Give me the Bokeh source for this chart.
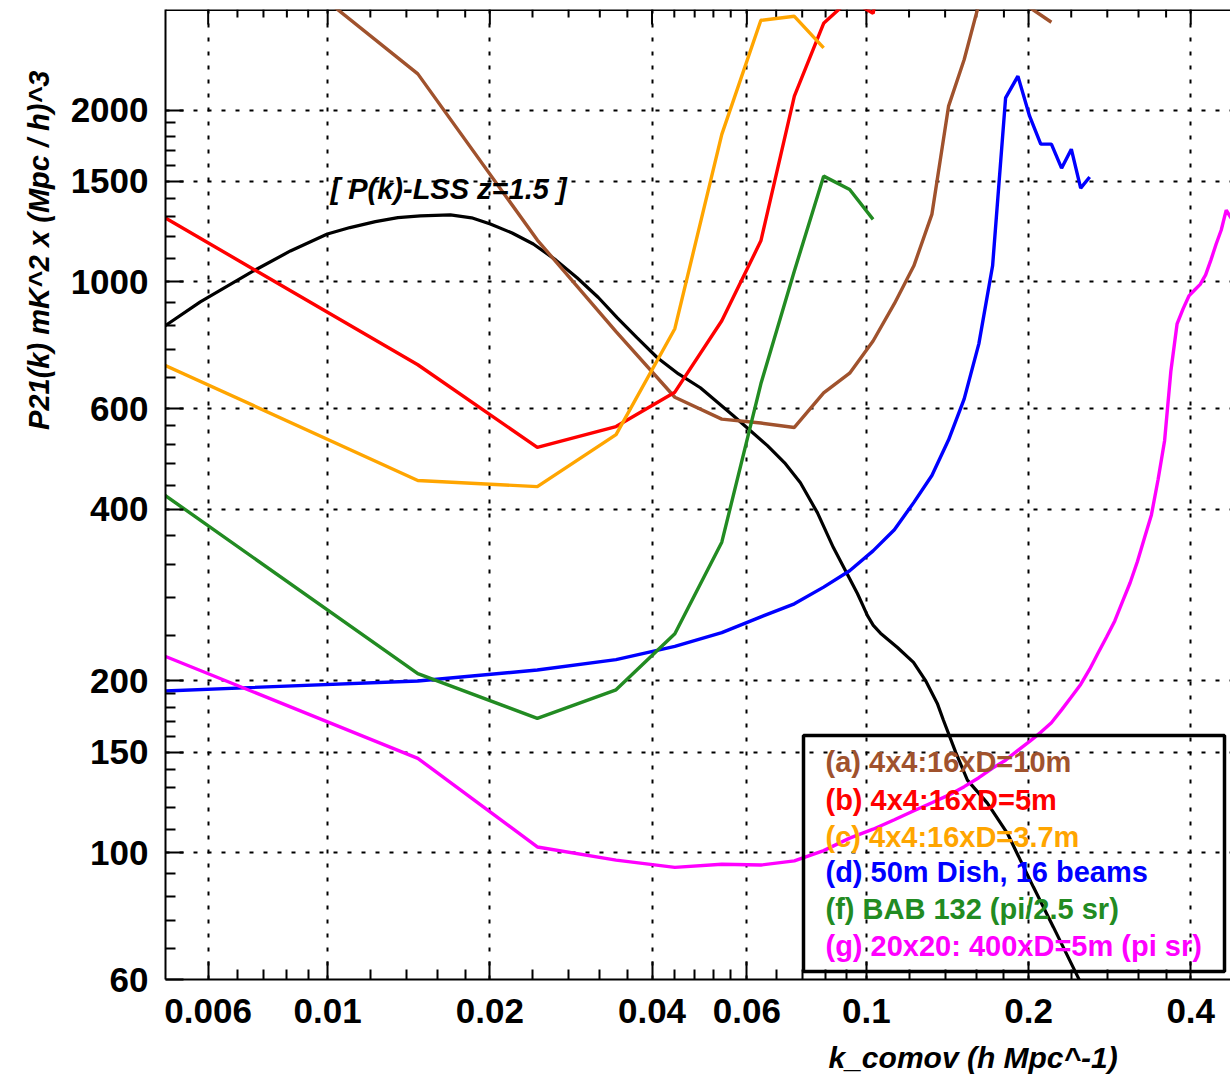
import math
from bokeh.plotting import figure
from bokeh.models import (FixedTicker, BasicTickFormatter, Range1d, Title,
                          ColumnDataSource, BoxAnnotation, Label)
from bokeh.core.properties import value
from bokeh.embed import file_html
from bokeh.resources import INLINE

# ---------------- data ----------------
k_grid = [0.0049, 0.0147, 0.0245, 0.0343, 0.0441, 0.0539, 0.0637, 0.0735, 0.0833, 0.0931,
          0.1029, 0.1127, 0.1225, 0.1323, 0.1421, 0.1519, 0.1617, 0.1715, 0.1813, 0.1911,
          0.2009, 0.2107, 0.2205, 0.2303, 0.2401, 0.2499, 0.2597, 0.2695, 0.2793, 0.2891,
          0.2989, 0.3087, 0.3185, 0.3283, 0.3381, 0.3479, 0.3577, 0.3675, 0.3773, 0.3871,
          0.3969, 0.4067, 0.4165, 0.4263, 0.4361, 0.4459, 0.4557, 0.4655, 0.4753]

P_a = [5318, 2314, 1184, 818, 628, 575, 566, 556, 639, 692, 788, 916, 1067, 1313, 2032,
       2452, 3064, 3400, 3500, 3200, 3024, 2934, 2850]
P_b = [1308, 716, 513, 558, 641, 855, 1180, 2115, 2838, 3123, 2954, 4500]
P_c = [720, 449, 438, 540, 828, 1813, 2872, 2919, 2569]
P_d = [192, 200, 209, 218, 230, 243, 259, 273, 292, 312, 338, 368, 411, 458, 529, 624,
       779, 1067, 2101, 2293, 1951, 1743, 1743, 1582, 1708, 1460, 1527]
P_f = [428, 206, 172, 193, 242, 350, 663, 1045, 1532, 1452, 1287]
P_g = [222.5, 146.4, 102.4, 97.1, 94.3, 95.5, 95.2, 96.8, 100.9, 106.1, 110, 114.3, 118.5,
       122.4, 126.2, 130.6, 135.4, 140.7, 145.3, 151.2, 156.8, 162.6, 169, 178, 187.5,
       197.2, 209.7, 224.3, 239, 254.8, 275.6, 297.2, 323.8, 356.2, 390.7, 450.8, 527,
       699, 844, 897, 945, 968, 990, 1029, 1093, 1165, 1233, 1336, 1294]

k_lss = [0.0049, 0.005802, 0.007281, 0.008527, 0.009987, 0.011, 0.012263, 0.0135, 0.01486,
         0.0169, 0.0185, 0.02004, 0.022, 0.02408, 0.0265, 0.02907, 0.0318, 0.03449, 0.0375,
         0.04093, 0.0448, 0.04918, 0.05664, 0.06551, 0.0705, 0.07542, 0.0811, 0.08684,
         0.09623, 0.0985, 0.1004, 0.103, 0.1062, 0.1142, 0.1223, 0.1287, 0.1354, 0.139,
         0.1465, 0.154, 0.1677, 0.1827, 0.2042, 0.2224, 0.2474, 0.2718]
P_lss = [828, 922.6, 1045, 1133, 1213, 1245, 1275, 1296, 1305, 1310, 1295, 1263, 1218,
         1165, 1093, 1016, 939, 865, 799, 736.5, 690, 652.5, 583, 516.7, 482, 445, 394.3,
         342.5, 284.6, 271.3, 260.5, 250.2, 242.5, 228.9, 215.6, 200.5, 182.7, 170.7, 150,
         134.1, 122.2, 108.2, 87.1, 74.1, 60.4, 50.4]

series_labels = ["(a) 4x4:16xD=10m", "(b) 4x4:16xD=5m", "(c) 4x4:16xD=3.7m",
                 "(d) 50m Dish, 16 beams", "(f) BAB 132 (pi/2.5 sr)",
                 "(g) 20x20: 400xD=5m (pi sr)"]
series_colors = ["#a0522d", "#ff0000", "#ffa500", "#0000ff", "#228b22", "#ff00ff"]
series_values = [P_a, P_b, P_c, P_d, P_f, P_g]

x_major = [0.006, 0.01, 0.02, 0.04, 0.06, 0.1, 0.2, 0.4]
x_minor = [0.0068, 0.0076, 0.0084, 0.0092, 0.012, 0.014, 0.016, 0.018, 0.024, 0.028,
           0.032, 0.036, 0.044, 0.048, 0.052, 0.056, 0.068, 0.076, 0.084, 0.092, 0.12,
           0.14, 0.16, 0.18, 0.24, 0.28, 0.32, 0.36]
y_major = [60, 100, 150, 200, 400, 600, 1000, 1500, 2000]
y_minor = [68, 76, 84, 92, 110, 120, 130, 140, 160, 170, 180, 190, 240, 280, 320, 360,
           440, 480, 520, 560, 680, 760, 840, 920, 1100, 1200, 1300, 1400, 1600, 1700,
           1800, 1900]

# ---------------- layout ----------------
W, H = 1230, 1086
FL, FT, FB = 165, 9, 979          # frame left / top / bottom on the page
X0, X1 = 0.005, 0.4741
Y0, Y1 = 60, 3000
FR = W

def px2k(px):  # page pixel -> data value (annotation placement only)
    return 10 ** (math.log10(X0) + (px - FL) / (FR - FL) * math.log10(X1 / X0))

def py2P(py):
    return 10 ** (math.log10(Y1) - (py - FT) / (FB - FT) * math.log10(Y1 / Y0))

p = figure(width=W, height=H, x_axis_type="log", y_axis_type="log",
           x_range=Range1d(X0, X1), y_range=Range1d(Y0, Y1),
           output_backend="svg", toolbar_location=None,
           min_border_left=FL, min_border_right=0, min_border_top=FT,
           min_border_bottom=H - FB)
p.outline_line_color = None
p.background_fill_color = "white"
p.border_fill_color = "white"

FONT = "Liberation Sans"
xt = FixedTicker(ticks=x_major, minor_ticks=x_minor)
yt = FixedTicker(ticks=y_major, minor_ticks=y_minor)

for ax, tk in ((p.xaxis[0], xt), (p.yaxis[0], yt)):
    ax.ticker = tk
    ax.formatter = BasicTickFormatter()
    ax.major_tick_in = 18
    ax.major_tick_out = 0
    ax.minor_tick_in = 10
    ax.minor_tick_out = 0
    ax.major_tick_line_width = 2
    ax.minor_tick_line_width = 2
    ax.axis_line_width = 2
    ax.axis_line_color = "black"
    ax.major_tick_line_color = "black"
    ax.minor_tick_line_color = "black"
    ax.major_label_text_font = FONT
    ax.major_label_text_font_style = "bold"
    ax.major_label_text_font_size = "35px"
    ax.major_label_text_color = "black"
p.xaxis[0].major_label_standoff = 19
p.yaxis[0].major_label_standoff = 17

for g in (p.xgrid[0], p.ygrid[0]):
    g.grid_line_color = "black"
    g.grid_line_dash = "4 10"
    g.grid_line_width = 2

# top frame line and inward ticks (mirror of the bottom axis)
p.line([X0, X1], [Y1, Y1], line_color="black", line_width=3)
p.segment(x0=x_major, y0=[Y1] * len(x_major), x1=x_major,
          y1=[py2P(FT + 15)] * len(x_major), line_color="black", line_width=2)
p.segment(x0=x_minor, y0=[Y1] * len(x_minor), x1=x_minor,
          y1=[py2P(FT + 8)] * len(x_minor), line_color="black", line_width=2)

# ---------------- curves ----------------
p.line(k_lss, P_lss, line_color="black", line_width=3.2)
for vals, col in zip(series_values, series_colors):
    p.line(k_grid[:len(vals)], vals, line_color=col, line_width=3.4)

# ---------------- legend ----------------
p.add_layout(BoxAnnotation(left=px2k(803), right=px2k(1224), top=py2P(735),
                           bottom=py2P(971), fill_color=None, line_color="black",
                           line_width=3.5, line_alpha=1))
rows_py = [761.7, 799.5, 836, 871.7, 908.3, 945]
leg = ColumnDataSource(dict(x=[px2k(825)] * 6, y=[py2P(v) for v in rows_py],
                            t=series_labels, c=series_colors))
p.text(x="x", y="y", text="t", text_color="c", source=leg,
       text_font=value(FONT), text_font_style="bold", text_font_size="29px",
       text_baseline="middle", text_align="left")

# ---------------- annotations ----------------
p.add_layout(Label(x=px2k(330), y=py2P(188), text="[ P(k)-LSS z=1.5 ]",
                   text_font=FONT, text_font_style="bold italic", text_font_size="29px",
                   text_baseline="middle", text_align="left", text_color="black"))

p.add_layout(Title(text="k_comov  (h Mpc^-1)", align="left", offset=828 - FL,
                   standoff=26, text_font=FONT, text_font_style="bold italic",
                   text_font_size="30px", text_color="black"), "below")
p.add_layout(Title(text="P21(k) mK^2 x (Mpc / h)^3", align="right", offset=70 - FT,
                   standoff=22, vertical_align="top", text_font=FONT,
                   text_font_style="bold italic", text_font_size="29px",
                   text_color="black"), "left")

open("out.html", "w").write(file_html(p, INLINE))
